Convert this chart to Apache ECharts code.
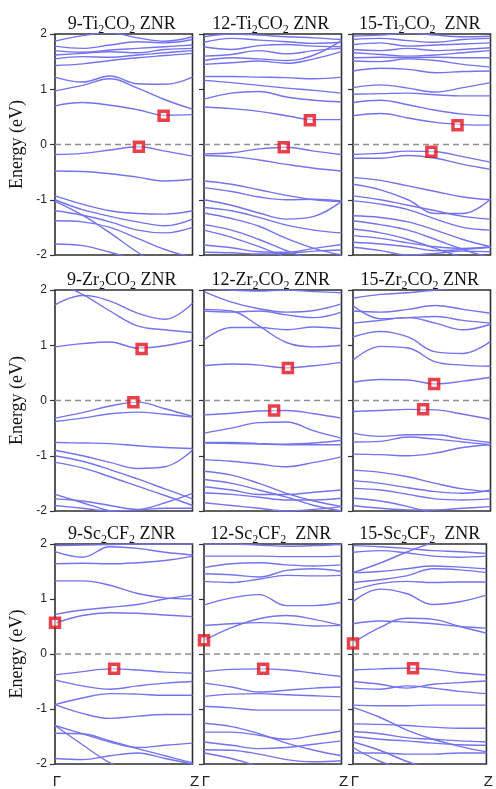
<!DOCTYPE html>
<html>
<head>
<meta charset="utf-8">
<script src="https://cdn.jsdelivr.net/npm/echarts@6/dist/echarts.min.js"></script>
<style>
  html, body { margin: 0; padding: 0; background: #fff; }
  #chart { width: 496px; height: 789px; }
</style>
</head>
<body>
<div id="chart"></div>
<script>
// k-path sample positions (fraction of Γ→Z) shared by every band
const kPoints = [0, 0.2, 0.4, 0.6, 0.8, 1];

// Energy ticks (eV) and k-point names
const energyTicks = [-2, -1, 0, 1, 2];
const kLabels = ['Γ', 'Z'];

// Panel titles (rich text, {s|..} = subscript)
const panelTitles = [
  '{n|9-Ti}{s|2}{n|CO}{s|2}{n| ZNR}',
  '{n|12-Ti}{s|2}{n|CO}{s|2}{n| ZNR}',
  '{n|15-Ti}{s|2}{n|CO}{s|2}{n|  ZNR}',
  '{n|9-Zr}{s|2}{n|CO}{s|2}{n| ZNR}',
  '{n|12-Zr}{s|2}{n|CO}{s|2}{n| ZNR}',
  '{n|15-Zr}{s|2}{n|CO}{s|2}{n| ZNR}',
  '{n|9-Sc}{s|2}{n|CF}{s|2}{n| ZNR}',
  '{n|12-Sc}{s|2}{n|CF}{s|2}{n|  ZNR}',
  '{n|15-Sc}{s|2}{n|CF}{s|2}{n|  ZNR}'
];

// ---- Band energies (eV) at kPoints ----
const ti9Bands = [
  [1.87, 1.97, 2.02, 1.93, 1.87, 1.95],
  [1.78, 1.74, 1.80, 1.86, 1.84, 1.90],
  [1.70, 1.67, 1.71, 1.74, 1.77, 1.80],
  [1.62, 1.65, 1.68, 1.66, 1.72, 1.74],
  [1.55, 1.59, 1.58, 1.62, 1.66, 1.70],
  [1.43, 1.46, 1.52, 1.57, 1.61, 1.65],
  [1.22, 1.13, 1.24, 1.10, 1.09, 1.22],
  [0.97, 1.07, 1.19, 1.02, 0.81, 0.64],
  [0.70, 0.76, 0.71, 0.63, 0.53, 0.54],
  [-0.18, -0.16, -0.10, -0.04, -0.12, -0.21],
  [-0.48, -0.49, -0.53, -0.59, -0.66, -0.63],
  [-0.93, -1.08, -1.20, -1.25, -1.26, -1.20],
  [-1.00, -1.18, -1.30, -1.40, -1.47, -1.35],
  [-1.20, -1.28, -1.40, -1.55, -1.60, -1.50],
  [-1.38, -1.40, -1.50, -1.70, -1.90, -2.05],
  [-1.03, -1.28, -1.60, -1.95, -2.25],
  [-1.80, -1.83, -1.95, -2.10]
];
const ti9Cbm = [0.79, 0.52];
const ti9Vbm = [0.61, -0.04];

const ti12Bands = [
  [1.95, 2.00, 1.98, 1.95, 1.93, 1.90],
  [1.85, 1.92, 1.89, 1.86, 1.83, 1.85],
  [1.77, 1.72, 1.79, 1.81, 1.78, 1.77],
  [1.60, 1.63, 1.70, 1.64, 1.70, 1.74],
  [1.52, 1.57, 1.55, 1.52, 1.62, 1.88],
  [1.45, 1.48, 1.51, 1.47, 1.55, 1.68],
  [1.23, 1.23, 1.22, 1.21, 1.19, 1.22],
  [1.16, 1.12, 1.07, 1.02, 0.98, 0.93],
  [0.82, 0.93, 0.96, 0.86, 0.80, 0.77],
  [0.68, 0.65, 0.60, 0.52, 0.45, 0.45],
  [-0.17, -0.15, -0.08, -0.05, -0.12, -0.18],
  [-0.20, -0.22, -0.28, -0.36, -0.43, -0.48],
  [-0.66, -0.72, -0.82, -0.92, -1.00, -1.03],
  [-0.78, -0.85, -0.95, -1.00, -0.99, -1.02],
  [-1.00, -1.10, -1.24, -1.35, -1.30, -1.03],
  [-1.14, -1.20, -1.32, -1.46, -1.55, -1.60],
  [-1.24, -1.34, -1.48, -1.70, -1.88, -2.00],
  [-1.45, -1.55, -1.72, -1.92, -2.10],
  [-1.55, -1.68, -1.85, -2.05],
  [-1.82, -1.87, -1.94, -1.95, -1.88, -1.81],
  [-1.95, -1.96, -1.98, -1.97, -1.93, -1.91]
];
const ti12Cbm = [0.77, 0.44];
const ti12Vbm = [0.58, -0.05];

const ti15Bands = [
  [1.96, 1.98, 2.02, 1.98, 1.95, 1.96],
  [1.90, 1.92, 1.88, 1.85, 1.90, 1.92],
  [1.81, 1.84, 1.78, 1.80, 1.82, 1.84],
  [1.72, 1.70, 1.74, 1.70, 1.72, 1.75],
  [1.66, 1.63, 1.60, 1.62, 1.66, 1.70],
  [1.57, 1.58, 1.57, 1.58, 1.57, 1.57],
  [1.51, 1.50, 1.55, 1.52, 1.45, 1.40],
  [1.33, 1.38, 1.36, 1.30, 1.32, 1.33],
  [1.03, 1.08, 1.02, 0.95, 1.03, 1.12],
  [0.91, 0.92, 0.93, 0.90, 0.88, 0.88],
  [0.76, 0.80, 0.72, 0.62, 0.55, 0.52],
  [0.52, 0.56, 0.48, 0.40, 0.36, 0.35],
  [-0.18, -0.16, -0.12, -0.13, -0.22, -0.32],
  [-0.25, -0.25, -0.20, -0.25, -0.36, -0.45],
  [-0.60, -0.65, -0.75, -0.85, -0.95, -1.00],
  [-0.72, -0.82, -1.00, -1.25, -1.25, -0.99],
  [-0.93, -1.00, -1.10, -1.20, -1.30, -1.35],
  [-1.02, -1.08, -1.18, -1.35, -1.50, -1.55],
  [-1.29, -1.32, -1.40, -1.55, -1.72, -1.85],
  [-1.38, -1.45, -1.55, -1.72, -1.90, -2.05],
  [-1.53, -1.60, -1.72, -1.88, -2.05],
  [-1.65, -1.70, -1.78, -1.85, -1.88, -1.85],
  [-1.77, -1.80, -1.85, -1.92, -1.90, -1.86],
  [-1.86, -1.92, -2.00, -1.97, -1.93, -1.94]
];
const ti15Cbm = [0.76, 0.35];
const ti15Vbm = [0.57, -0.13];

const zr9Bands = [
  [2.15, 1.92, 1.62, 1.35, 1.28, 1.23],
  [1.73, 1.90, 1.80, 1.58, 1.47, 1.76],
  [0.97, 1.03, 1.06, 0.95, 0.99, 1.09],
  [-0.32, -0.22, -0.10, -0.03, -0.15, -0.29],
  [-0.38, -0.32, -0.24, -0.21, -0.25, -0.30],
  [-0.76, -0.77, -0.78, -0.82, -0.85, -0.87],
  [-0.90, -1.00, -1.12, -1.23, -1.20, -0.90],
  [-1.00, -1.10, -1.25, -1.42, -1.60, -1.78],
  [-1.12, -1.22, -1.38, -1.55, -1.72, -1.90],
  [-1.70, -1.85, -2.00, -2.10],
  [-1.78, -1.82, -1.90, -1.97, -1.85, -1.68],
  [-1.90, -1.95, -2.00, -1.98, -1.95, -1.95]
];
const zr9Cbm = [0.63, 0.93];
const zr9Vbm = [0.57, -0.03];

const zr12Bands = [
  [1.97, 1.78, 1.66, 1.60, 1.63, 1.75],
  [1.65, 1.62, 1.35, 1.05, 0.97, 1.00],
  [1.10, 1.32, 1.32, 1.28, 1.33, 1.30],
  [2.05, 2.00, 1.98, 2.00, 1.97, 1.95],
  [1.62, 1.60, 1.62, 1.55, 1.50, 1.60],
  [0.63, 0.66, 0.64, 0.59, 0.63, 0.69],
  [-0.26, -0.23, -0.19, -0.18, -0.24, -0.32],
  [-0.59, -0.50, -0.40, -0.39, -0.55, -0.68],
  [-0.77, -0.78, -0.79, -0.80, -0.80, -0.80],
  [-0.76, -0.76, -0.78, -0.79, -0.77, -0.72],
  [-1.07, -1.10, -1.15, -1.20, -1.12, -1.02],
  [-1.28, -1.35, -1.50, -1.68, -1.82, -1.92],
  [-1.43, -1.50, -1.62, -1.75, -1.90, -2.00],
  [-1.56, -1.62, -1.70, -1.70, -1.66, -1.62],
  [-1.67, -1.70, -1.75, -1.80, -1.80, -1.77],
  [-1.85, -1.90, -1.95, -2.00, -1.97, -1.92]
];
const zr12Cbm = [0.61, 0.59];
const zr12Vbm = [0.51, -0.18];

const zr15Bands = [
  [1.85, 1.92, 1.95, 2.00, 2.05, 2.10],
  [1.72, 1.48, 1.50, 1.52, 1.45, 1.40],
  [1.62, 1.60, 1.65, 1.72, 1.65, 1.58],
  [1.40, 1.45, 1.50, 1.40, 1.28, 1.38],
  [1.15, 1.25, 1.15, 0.88, 0.85, 1.07],
  [0.73, 0.98, 0.95, 0.70, 0.64, 0.62],
  [0.33, 0.38, 0.37, 0.30, 0.35, 0.42],
  [-0.20, -0.18, -0.16, -0.17, -0.25, -0.34],
  [-0.59, -0.65, -0.62, -0.62, -0.70, -0.76],
  [-0.75, -0.74, -0.66, -0.70, -0.75, -0.80],
  [-0.97, -0.98, -1.00, -0.95, -0.85, -0.80],
  [-1.26, -1.30, -1.38, -1.50, -1.60, -1.65],
  [-1.45, -1.50, -1.58, -1.65, -1.68, -1.62],
  [-1.59, -1.62, -1.70, -1.78, -1.80, -1.78],
  [-1.77, -1.82, -1.92, -2.05],
  [-1.90, -1.95, -1.98, -1.98, -1.95, -1.92]
];
const zr15Cbm = [0.59, 0.30];
const zr15Vbm = [0.51, -0.16];

const sc9Bands = [
  [1.97, 1.98, 1.99, 2.00, 2.00, 2.00],
  [1.86, 1.76, 1.95, 1.92, 1.85, 1.80],
  [1.64, 1.65, 1.64, 1.66, 1.70, 1.78],
  [1.33, 1.33, 1.25, 1.10, 1.02, 1.00],
  [0.72, 0.80, 0.85, 0.90, 1.00, 1.07],
  [0.56, 0.70, 0.75, 0.74, 0.71, 0.68],
  [-0.38, -0.32, -0.27, -0.29, -0.33, -0.35],
  [-0.47, -0.58, -0.64, -0.58, -0.53, -0.50],
  [-0.92, -0.80, -0.72, -0.73, -0.75, -0.75],
  [-0.92, -1.08, -1.17, -1.13, -1.10, -1.10],
  [-1.30, -1.45, -1.60, -1.70, -1.66, -1.62],
  [-1.44, -1.45, -1.58, -1.72, -1.85, -1.98],
  [-1.90, -1.92, -1.85, -1.80, -1.90, -2.00],
  [-1.30, -1.65, -1.98, -2.20]
];
const sc9Cbm = [0, 0.57];
const sc9Vbm = [0.43, -0.27];

const sc12Bands = [
  [2.00, 2.00, 1.98, 1.96, 1.97, 1.99],
  [1.78, 1.78, 1.78, 1.77, 1.77, 1.78],
  [1.57, 1.64, 1.66, 1.62, 1.60, 1.62],
  [1.46, 1.44, 1.40, 1.52, 1.55, 1.50],
  [1.32, 1.30, 1.36, 1.43, 1.42, 1.43],
  [0.89, 1.02, 1.08, 0.88, 0.88, 0.94],
  [0.52, 0.55, 0.57, 0.55, 0.51, 0.52],
  [0.25, 0.48, 0.64, 0.70, 0.63, 0.52],
  [-0.32, -0.28, -0.27, -0.29, -0.35, -0.41],
  [-0.53, -0.60, -0.69, -0.66, -0.62, -0.60],
  [-0.77, -0.73, -0.72, -0.74, -0.76, -0.78],
  [-0.95, -0.98, -1.02, -1.02, -1.02, -1.02],
  [-1.26, -1.32, -1.45, -1.62, -1.75, -1.85],
  [-1.42, -1.42, -1.48, -1.55, -1.48, -1.40],
  [-1.60, -1.66, -1.72, -1.70, -1.64, -1.58],
  [-1.74, -1.75, -1.82, -1.92, -1.96, -1.94],
  [-1.80, -1.90, -2.05]
];
const sc12Cbm = [0, 0.25];
const sc12Vbm = [0.43, -0.27];

const sc15Bands = [
  [1.97, 1.95, 1.92, 1.88, 1.86, 1.83],
  [1.85, 1.88, 1.84, 1.78, 1.76, 1.78],
  [1.48, 1.65, 1.85, 2.02, 2.10],
  [1.48, 1.50, 1.55, 1.60, 1.58, 1.55],
  [1.30, 1.35, 1.42, 1.55, 1.53, 1.48],
  [1.16, 1.28, 1.32, 1.30, 1.31, 1.31],
  [0.95, 1.18, 1.10, 0.90, 0.95, 1.07],
  [0.55, 0.60, 0.58, 0.55, 0.50, 0.47],
  [0.20, 0.48, 0.65, 0.63, 0.50, 0.38],
  [-0.29, -0.27, -0.26, -0.28, -0.34, -0.38],
  [-0.50, -0.55, -0.62, -0.55, -0.52, -0.49],
  [-0.62, -0.64, -0.58, -0.62, -0.68, -0.72],
  [-0.93, -0.94, -0.94, -0.93, -0.93, -0.93],
  [-0.97, -1.15, -1.38, -1.55, -1.68, -1.78],
  [-1.27, -1.28, -1.30, -1.33, -1.35, -1.35],
  [-1.41, -1.45, -1.52, -1.55, -1.58, -1.60],
  [-1.50, -1.55, -1.58, -1.62, -1.65, -1.66],
  [-1.60, -1.75, -1.95, -2.10],
  [-1.70, -1.95, -2.10],
  [-1.80, -1.80, -1.82, -1.82, -1.80, -1.80]
];
const sc15Cbm = [0, 0.19];
const sc15Vbm = [0.45, -0.26];

// ---- Layout ----
const colLeft = [55, 204, 353];
const rowTop = [34, 290, 544];
const panelW = 137.5;
const panelH = 221;

const BAND_COLOR = '#7373ee';
const SERIF = '"Liberation Serif", "DejaVu Serif", serif';
const SANS = '"Liberation Sans", Arial, sans-serif';

const panels = [
  { bands: ti9Bands, cbm: ti9Cbm, vbm: ti9Vbm },
  { bands: ti12Bands, cbm: ti12Cbm, vbm: ti12Vbm },
  { bands: ti15Bands, cbm: ti15Cbm, vbm: ti15Vbm },
  { bands: zr9Bands, cbm: zr9Cbm, vbm: zr9Vbm },
  { bands: zr12Bands, cbm: zr12Cbm, vbm: zr12Vbm },
  { bands: zr15Bands, cbm: zr15Cbm, vbm: zr15Vbm },
  { bands: sc9Bands, cbm: sc9Cbm, vbm: sc9Vbm },
  { bands: sc12Bands, cbm: sc12Cbm, vbm: sc12Vbm },
  { bands: sc15Bands, cbm: sc15Cbm, vbm: sc15Vbm }
];

const grids = [], xAxes = [], yAxes = [], titles = [], series = [];

panels.forEach((p, i) => {
  const row = Math.floor(i / 3), col = i % 3;
  const left = colLeft[col], top = rowTop[row];

  grids.push({
    left: left, top: top, width: panelW, height: panelH,
    show: true, backgroundColor: '#fff',
    borderColor: '#2e2e2e', borderWidth: 1.6
  });

  xAxes.push({
    gridIndex: i, type: 'value', min: 0, max: 1, interval: 1,
    axisLine: { show: false }, axisTick: { show: false }, splitLine: { show: false },
    axisLabel: {
      show: row === 2, margin: 10, color: '#222',
      fontFamily: SANS, fontSize: 15, padding: [0, 0, 0, 4],
      showMinLabel: true, showMaxLabel: true,
      formatter: v => (v === 0 ? kLabels[0] : (v === 1 ? kLabels[1] : ''))
    }
  });

  yAxes.push({
    gridIndex: i, type: 'value',
    min: energyTicks[0], max: energyTicks[energyTicks.length - 1], interval: 1,
    axisLine: { show: false }, splitLine: { show: false },
    axisTick: { show: true, inside: false, length: 5, lineStyle: { color: '#333', width: 1.2 } },
    axisLabel: { show: col === 0, margin: 8, color: '#222', fontFamily: SANS, fontSize: 12 },
    name: col === 0 ? 'Energy (eV)' : '',
    nameLocation: 'middle', nameGap: 29, nameRotate: 90,
    nameTextStyle: { fontFamily: SERIF, fontSize: 18, color: '#111' }
  });

  titles.push({
    text: panelTitles[i],
    left: left + panelW / 2 - 7, top: top - 27, textAlign: 'center',
    textStyle: {
      fontWeight: 'normal',
      rich: {
        n: { fontFamily: SERIF, fontSize: 18, fontWeight: 'normal', color: '#111', lineHeight: 24 },
        s: { fontFamily: SERIF, fontSize: 12, fontWeight: 'normal', color: '#111', lineHeight: 12, verticalAlign: 'bottom' }
      }
    }
  });

  // Fermi level
  series.push({
    type: 'line', xAxisIndex: i, yAxisIndex: i, silent: true,
    symbol: 'none', z: 1,
    data: [[0, 0], [1, 0]],
    lineStyle: { color: '#8f8f8f', width: 1.3, type: [6, 4] }
  });

  p.bands.forEach(b => {
    series.push({
      type: 'line', xAxisIndex: i, yAxisIndex: i, silent: true,
      symbol: 'none', smooth: 0.4, z: 2,
      data: b.map((e, j) => [kPoints[j], e]),
      lineStyle: { color: BAND_COLOR, width: 1.4 }
    });
  });

  // band-edge markers (CBM / VBM)
  series.push({
    type: 'scatter', xAxisIndex: i, yAxisIndex: i, silent: true, clip: false,
    symbol: 'rect', symbolSize: 9, z: 5,
    data: [p.cbm, p.vbm],
    itemStyle: { color: 'rgba(255,255,255,0.6)', borderColor: '#e3121e', borderWidth: 3.5 }
  });
});

const chart = echarts.init(document.getElementById('chart'), null, { renderer: 'canvas' });
chart.setOption({
  animation: false,
  backgroundColor: '#fff',
  title: titles,
  grid: grids,
  xAxis: xAxes,
  yAxis: yAxes,
  series: series
});
</script>
</body>
</html>
